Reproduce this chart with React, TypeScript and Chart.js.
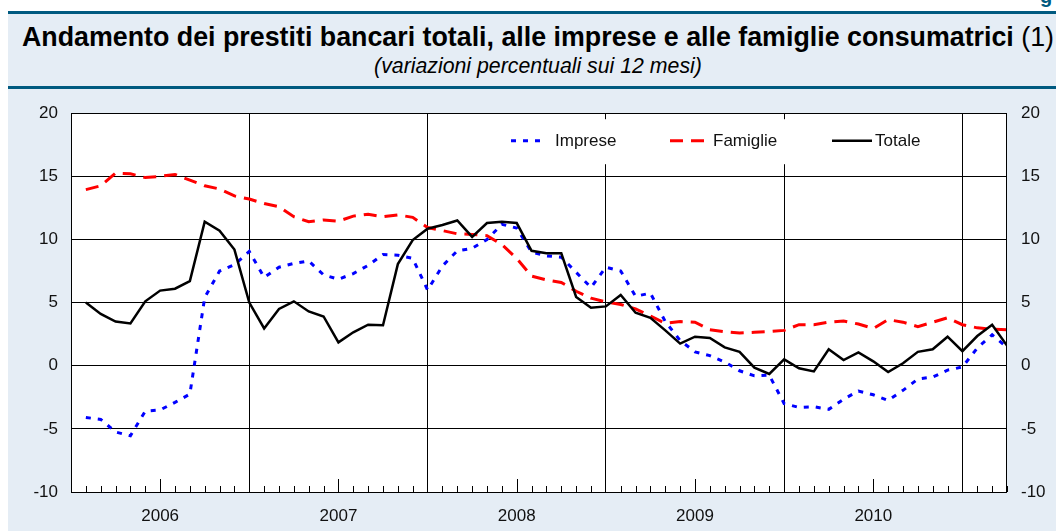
import React, { useEffect, useRef } from "react";
import { Chart, registerables } from "chart.js";

Chart.register(...registerables);

// ---- Data ----
const years = ["2006", "2007", "2008", "2009", "2010", "2011"];
const monthNames = ["gen", "feb", "mar", "apr", "mag", "giu", "lug", "ago", "set", "ott", "nov", "dic"];
const allMonths: string[] = [];
years.forEach((y) => monthNames.forEach((m) => allMonths.push(`${m} ${y}`)));
const categories = allMonths.slice(0, 63); // gen 2006 .. mar 2011

const yearLabels = ["2006", "2007", "2008", "2009", "2010"];
const yTickValues = [-10, -5, 0, 5, 10, 15, 20];

const imprese = [
  -4.1, -4.25, -5.25, -5.55, -3.6, -3.5, -2.9, -2.25, 5.4, 7.5, 8.0, 9.05,
  7.0, 7.8, 8.1, 8.3, 7.2, 6.85, 7.3, 7.95, 8.8, 8.75, 8.5, 6.0,
  7.9, 9.1, 9.3, 10.0, 11.2, 10.9, 9.0, 8.7, 8.6, 7.4, 6.2, 7.8,
  7.5, 5.5, 5.75, 3.5, 2.0, 1.1, 0.8, 0.3, -0.4, -0.8, -0.75, -3.0,
  -3.3, -3.25, -3.45, -2.65, -2.0, -2.3, -2.75, -1.95, -1.05, -0.9, -0.35, -0.1,
  1.4, 2.45, 1.45,
];

const famiglie = [
  13.95, 14.25, 15.25, 15.2, 14.9, 15.0, 15.15, 14.7, 14.25, 14.0, 13.45, 13.2,
  12.85, 12.6, 11.8, 11.4, 11.55, 11.45, 11.85, 12.0, 11.8, 11.95, 11.75, 10.95,
  10.7, 10.45, 10.4, 10.3, 9.6, 8.5, 7.1, 6.8, 6.6, 5.9, 5.35, 5.05,
  4.85, 4.5, 3.95, 3.35, 3.5, 3.45, 2.85, 2.7, 2.6, 2.65, 2.7, 2.8,
  3.25, 3.25, 3.45, 3.55, 3.3, 2.95, 3.65, 3.45, 3.1, 3.45, 3.8, 3.25,
  3.0, 2.9, 2.85,
];

const totale = [
  5.0, 4.1, 3.5, 3.35, 5.1, 5.95, 6.1, 6.7, 11.4, 10.7, 9.2, 5.0,
  2.95, 4.5, 5.1, 4.3, 3.9, 1.85, 2.65, 3.25, 3.2, 8.05, 9.95, 10.85,
  11.15, 11.5, 10.2, 11.3, 11.4, 11.3, 9.1, 8.9, 8.9, 5.45, 4.6, 4.7,
  5.6, 4.2, 3.8, 2.8, 1.75, 2.3, 2.2, 1.45, 1.1, -0.15, -0.65, 0.5,
  -0.2, -0.45, 1.3, 0.45, 1.05, 0.35, -0.5, 0.2, 1.1, 1.3, 2.3, 1.15,
  2.35, 3.25, 1.6,
];

const seriesNames = ["Imprese", "Famiglie", "Totale"];

const FONT = '"Liberation Sans", Arial, Helvetica, sans-serif';
const TEAL = "#005a80";
const PANEL = "#e5edf5";

const IMPRESE_DASH = [5, 7];
const FAMIGLIE_DASH = [13, 8];

const toPoints = (arr: number[]) => arr.map((v, i) => ({ x: i, y: v }));

export default function App() {
  const canvasRef = useRef<HTMLCanvasElement>(null);

  useEffect(() => {
    const canvas = canvasRef.current;
    if (!canvas) return;

    const decorPlugin = {
      id: "decor",
      beforeDraw(chart: any) {
        const { ctx, chartArea } = chart;
        ctx.save();
        ctx.fillStyle = "#ffffff";
        ctx.fillRect(chartArea.left, chartArea.top, chartArea.right - chartArea.left, chartArea.bottom - chartArea.top);
        ctx.restore();
      },
      afterDraw(chart: any) {
        const { ctx, chartArea, scales } = chart;
        const xs = scales.x;
        ctx.save();
        // month tick marks inside the plot from the bottom
        ctx.strokeStyle = "#000";
        ctx.lineWidth = 1;
        for (let i = 0; i < categories.length; i++) {
          if (i % 12 === 11) continue;
          const px = Math.round(xs.getPixelForValue(i)) + 0.5;
          const len = categories[i].startsWith("giu") ? 13 : 6;
          ctx.beginPath();
          ctx.moveTo(px, chartArea.bottom);
          ctx.lineTo(px, chartArea.bottom - len);
          ctx.stroke();
        }
        // plot border
        ctx.strokeRect(
          Math.round(chartArea.left) + 0.5,
          Math.round(chartArea.top) + 0.5,
          Math.round(chartArea.right - chartArea.left) - 1,
          Math.round(chartArea.bottom - chartArea.top)
        );

        // legend box
        const L = chartArea.left;
        const T = chartArea.top;
        ctx.fillStyle = "#ffffff";
        ctx.fillRect(L + 419, T + 6, 455, 45);
        const cy = T + 27.5;
        const items = [
          { name: seriesNames[0], color: "#0000ff", dash: IMPRESE_DASH, width: 3, x0: L + 440, x1: L + 476, tx: L + 484 },
          { name: seriesNames[1], color: "#ff0000", dash: FAMIGLIE_DASH, width: 3, x0: L + 599, x1: L + 637, tx: L + 642 },
          { name: seriesNames[2], color: "#000000", dash: [], width: 2.5, x0: L + 761, x1: L + 801, tx: L + 804 },
        ];
        items.forEach((it) => {
          ctx.beginPath();
          ctx.setLineDash(it.dash);
          ctx.strokeStyle = it.color;
          ctx.lineWidth = it.width;
          ctx.moveTo(it.x0, cy);
          ctx.lineTo(it.x1, cy);
          ctx.stroke();
          ctx.setLineDash([]);
          ctx.fillStyle = "#111";
          ctx.font = `17px ${FONT}`;
          ctx.textBaseline = "middle";
          ctx.textAlign = "left";
          ctx.fillText(it.name, it.tx, cy + 1);
        });
        ctx.restore();
      },
    };

    const tickFont = { family: FONT, size: 17 };

    const chart = new Chart(canvas, {
      type: "line",
      data: {
        datasets: [
          {
            label: seriesNames[2],
            data: toPoints(totale),
            borderColor: "#000000",
            borderWidth: 2.5,
            pointRadius: 0,
            tension: 0,
            fill: false,
          },
          {
            label: seriesNames[0],
            data: toPoints(imprese),
            borderColor: "#0000ff",
            borderWidth: 3,
            borderDash: IMPRESE_DASH,
            pointRadius: 0,
            tension: 0,
            fill: false,
          },
          {
            label: seriesNames[1],
            data: toPoints(famiglie),
            borderColor: "#ff0000",
            borderWidth: 3,
            borderDash: FAMIGLIE_DASH,
            pointRadius: 0,
            tension: 0,
            fill: false,
          },
        ],
      },
      options: {
        responsive: false,
        animation: false,
        events: [],
        layout: { padding: { top: 20, left: 0, right: 0, bottom: 0 } },
        plugins: {
          legend: { display: false },
          tooltip: { enabled: false },
          title: { display: false },
        },
        scales: {
          x: {
            type: "linear",
            min: -1,
            max: categories.length - 1,
            afterBuildTicks: (s: any) => {
              s.ticks = [-1, ...categories.map((_, i) => i)].map((v) => ({ value: v }));
            },
            afterFit: (s: any) => {
              s.height = 39;
            },
            grid: {
              color: (c: any) => (c.tick && ((c.tick.value % 12) + 12) % 12 === 11 ? "#000000" : "rgba(0,0,0,0)"),
              lineWidth: 1,
              drawTicks: false,
            },
            border: { display: false },
            ticks: {
              autoSkip: false,
              maxRotation: 0,
              padding: 14,
              color: "#111",
              font: tickFont,
              callback: (v: any) => {
                const i = Number(v);
                if (i >= 0 && i < categories.length && categories[i].startsWith("giu")) {
                  const yr = categories[i].split(" ")[1];
                  return yearLabels.includes(yr) ? yr : "";
                }
                return "";
              },
            },
          },
          y: {
            position: "left",
            min: -10,
            max: 20,
            afterBuildTicks: (s: any) => {
              s.ticks = yTickValues.map((v) => ({ value: v }));
            },
            afterFit: (s: any) => {
              s.width = 63;
            },
            grid: { color: "#000000", lineWidth: 1, drawTicks: false },
            border: { display: false },
            ticks: { padding: 13, color: "#111", font: tickFont },
          },
          y2: {
            position: "right",
            min: -10,
            max: 20,
            afterBuildTicks: (s: any) => {
              s.ticks = yTickValues.map((v) => ({ value: v }));
            },
            afterFit: (s: any) => {
              s.width = 49;
            },
            grid: { display: false, drawTicks: false },
            border: { display: false },
            ticks: { padding: 14, color: "#111", font: tickFont },
          },
        },
      },
      plugins: [decorPlugin],
    } as any);

    return () => {
      chart.destroy();
    };
  }, []);

  return (
    <div
      style={{
        position: "fixed",
        left: 0,
        top: 0,
        width: 1056,
        height: 531,
        background: "#ffffff",
        overflow: "hidden",
        fontFamily: FONT,
      }}
    >
      <div style={{ position: "absolute", left: 8, top: 14, width: 1048, height: 517, background: PANEL }} />
      <div style={{ position: "absolute", left: 8, top: 11, width: 1048, height: 3, background: TEAL }} />
      <div style={{ position: "absolute", left: 8, top: 86, width: 1048, height: 3, background: TEAL }} />
      <div style={{ position: "absolute", left: 1030, top: 0, width: 26, height: 9, overflow: "hidden" }}>
        <span
          style={{
            position: "absolute",
            left: 10,
            top: -15,
            fontSize: 20,
            lineHeight: "23px",
            fontWeight: "bold",
            color: TEAL,
          }}
        >
          g
        </span>
      </div>
      <div
        style={{
          position: "absolute",
          left: 0,
          top: 22,
          width: 1076,
          textAlign: "center",
          whiteSpace: "nowrap",
          fontSize: 26.8,
          lineHeight: "30px",
          color: "#000",
        }}
      >
        <span style={{ fontWeight: "bold" }}>
          Andamento dei prestiti bancari totali, alle imprese e alle famiglie consumatrici
        </span>
        <span> (1)</span>
      </div>
      <div
        style={{
          position: "absolute",
          left: 0,
          top: 54,
          width: 1076,
          textAlign: "center",
          whiteSpace: "nowrap",
          fontSize: 21.3,
          lineHeight: "24px",
          fontStyle: "italic",
          color: "#000",
        }}
      >
        (variazioni percentuali sui 12 mesi)
      </div>
      <div style={{ position: "absolute", left: 8, top: 89, width: 1048, height: 442 }}>
        <canvas ref={canvasRef} width={1048} height={442} style={{ display: "block", width: 1048, height: 442 }} />
      </div>
    </div>
  );
}
